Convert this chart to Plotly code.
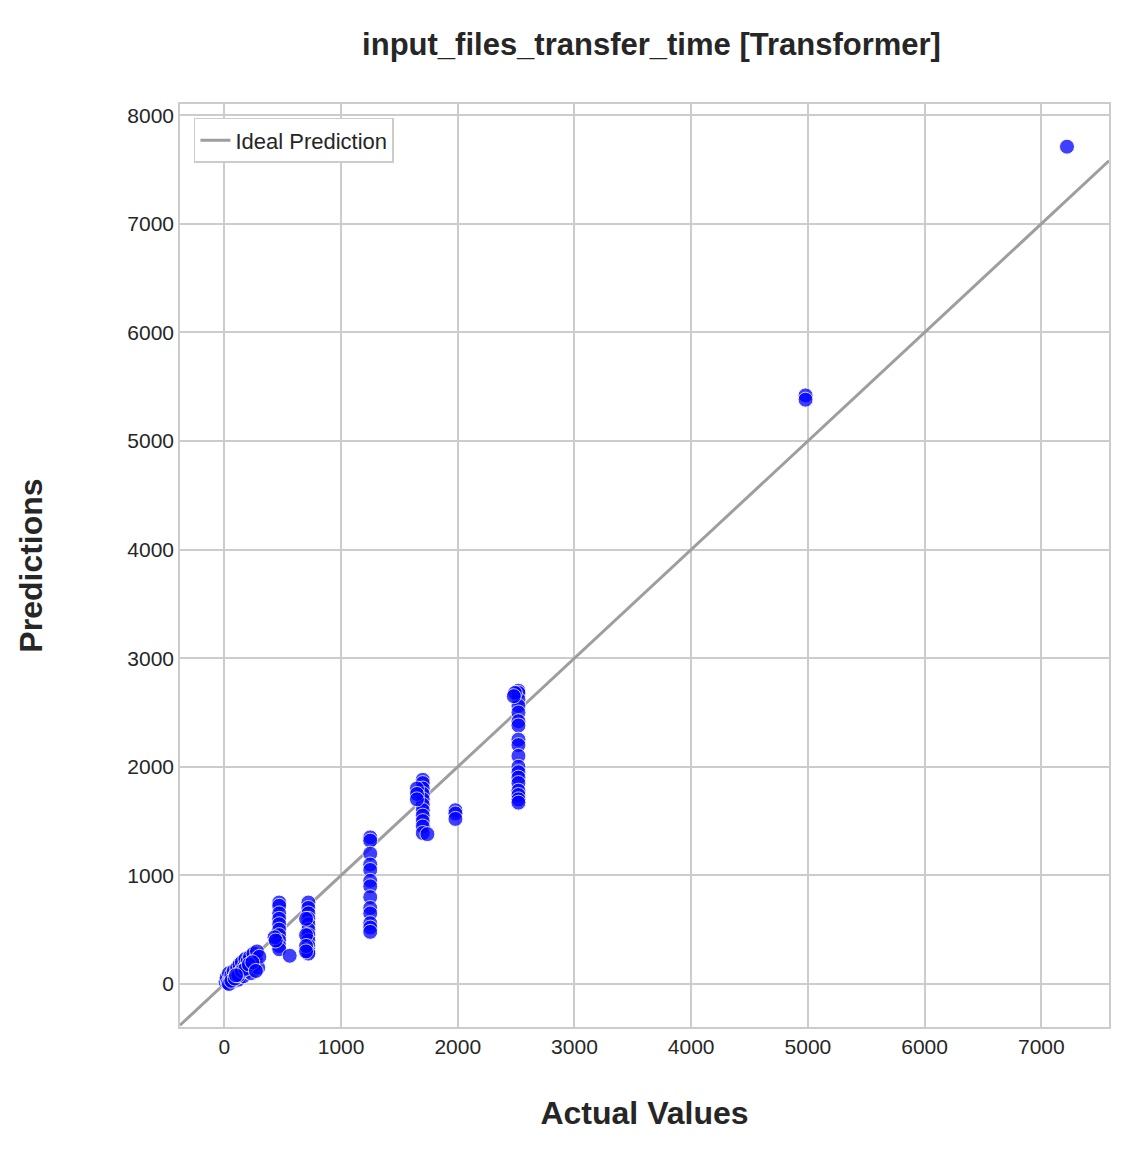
import plotly.graph_objects as go

c1_x = [2520]*18 + [2490, 2480]
c1_y = [2700, 2680, 2620, 2560, 2500, 2420, 2380, 2250, 2200, 2100, 2000, 1950, 1900, 1850, 1780, 1740, 1700, 1670, 2680, 2650]
c2_x = [1980]*3
c2_y = [1600, 1570, 1520]
c3_x = [1700]*11 + [1650]*3 + [1740]
c3_y = [1880, 1850, 1800, 1750, 1700, 1650, 1600, 1550, 1500, 1450, 1390, 1800, 1750, 1700, 1380]
c4_x = [1250]*13
c4_y = [1350, 1320, 1200, 1100, 1050, 950, 900, 800, 700, 650, 560, 520, 480]
c5_x = [470]*10 + [430, 440, 560]
c5_y = [750, 720, 650, 600, 550, 500, 450, 400, 350, 320, 430, 400, 260]
c6_x = [720]*11 + [700]*4
c6_y = [750, 700, 650, 600, 550, 500, 450, 400, 350, 300, 280, 600, 450, 350, 300]
low_x = [10, 20, 30, 40, 50, 60, 70, 80, 90, 100, 110, 120, 130, 140, 150, 160, 170, 180, 190, 200, 210, 220, 230, 240, 250, 260, 270, 280, 290, 300, 40, 60, 90, 120, 150, 180, 210, 240, 270, 100]
low_y = [20, 60, 10, 100, 40, 80, 20, 120, 60, 90, 150, 40, 180, 110, 200, 70, 160, 230, 120, 210, 150, 250, 100, 200, 280, 180, 230, 300, 150, 250, 0, 30, 50, 80, 120, 140, 180, 200, 120, 80]
c7_x = [4980, 4980, 7220]
c7_y = [5420, 5380, 7710]

xs = c1_x + c2_x + c3_x + c4_x + c5_x + c6_x + low_x + c7_x
ys = c1_y + c2_y + c3_y + c4_y + c5_y + c6_y + low_y + c7_y

rng = [-380, 7580]
fig = go.Figure()
fig.add_trace(go.Scatter(x=rng, y=rng, mode="lines", name="Ideal Prediction",
                         line=dict(color="#9e9e9e", width=3)))
fig.add_trace(go.Scatter(x=xs, y=ys, mode="markers", showlegend=False,
                         marker=dict(color="blue", size=15, opacity=0.75,
                                     line=dict(color="white", width=1))))
fig.update_layout(
    width=1129, height=1170, plot_bgcolor="white", paper_bgcolor="white",
    font=dict(family="Liberation Sans, Arial", size=20, color="#262626"),
    title=dict(text="<b>input_files_transfer_time [Transformer]</b>", x=0.57, xanchor="center",
               y=0.969, yanchor="middle", font=dict(size=31)),
    margin=dict(l=172, r=28, t=96, b=151),
    legend=dict(x=0.015, y=0.985, xanchor="left", yanchor="top", bordercolor="#cccccc",
                borderwidth=1.5, bgcolor="white", font=dict(size=22)),
)
ax = dict(showgrid=True, gridcolor="#cccccc", gridwidth=1.5, zeroline=False, showline=True,
          linecolor="#cccccc", linewidth=1.5, mirror=True, ticks="", tickfont=dict(size=21))
fig.update_xaxes(range=rng, dtick=1000, title=dict(text="<b>Actual Values</b>", font=dict(size=32), standoff=45), **ax)
fig.update_yaxes(range=[-396, 8103], dtick=1000, title=dict(text="<b>Predictions</b>", font=dict(size=32), standoff=75), **ax)
fig.write_html("out.html")
